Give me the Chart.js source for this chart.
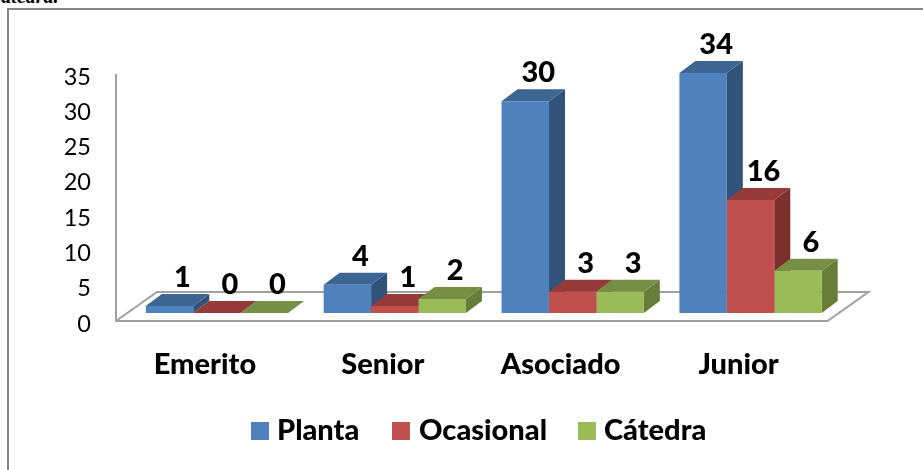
<!DOCTYPE html>
<html><head><meta charset="utf-8">
<style>html,body{margin:0;padding:0;background:#fff;overflow:hidden}
#wrap{position:relative;width:923px;height:470px;overflow:hidden}
#frag{position:absolute;left:-12px;top:-15px;font:italic bold 20px "Liberation Serif";color:#000}
#frame{position:absolute;left:7px;top:8px;width:950px;height:500px;border:2px solid #868686;box-sizing:border-box}
canvas{position:absolute;left:0;top:0}</style>
<script src="https://cdn.jsdelivr.net/npm/chart.js@4"></script></head>
<body><div id="wrap"><div id="frag">Cátedra.</div><div id="frame"></div><canvas id="c" width="923" height="470"></canvas></div>
<script>
const categories=["Emerito","Senior","Asociado","Junior"];
const planta=[1,4,30,34];
const ocasional=[0,1,3,16];
const catedra=[0,2,3,6];
const seriesNames=["Planta","Ocasional","Cátedra"];
const fronts=["#4F81BD","#C0504D","#9BBB59"];
const tops=["#3D6592","#953A38","#778F45"];
const sides=["#32527A","#7D2F2D","#677D3A"];
const FONT="Lato, Carlito, sans-serif";
const LIFT=3;
const SHIFT={x:12,y:-8-LIFT}, DEPTH={x:16,y:12}, FLOOR={x:41,y:29};
const threeD={id:"threeD",
 beforeDatasetsDraw(ch){
  const c=ch.ctx,a=ch.chartArea,y0=a.bottom-LIFT,yt=a.top-LIFT;
  c.save();c.strokeStyle="#A0A0A0";c.lineWidth=2;c.lineJoin="miter";
  c.beginPath();c.moveTo(a.left,yt);c.lineTo(a.left,y0);c.lineTo(a.right,y0);
  c.lineTo(a.right+FLOOR.x,y0-FLOOR.y);c.lineTo(a.left+FLOOR.x,y0-FLOOR.y);c.lineTo(a.left,y0);c.stroke();c.restore();
  c.save();c.translate(SHIFT.x,SHIFT.y);
  ch.data.datasets.forEach((d,i)=>{
   ch.getDatasetMeta(i).data.forEach(el=>{
    const l=el.x-el.width/2,r=el.x+el.width/2,t=el.y,b=el.base;
    c.fillStyle=sides[i];c.beginPath();c.moveTo(r,t);c.lineTo(r+DEPTH.x,t-DEPTH.y);c.lineTo(r+DEPTH.x,b-DEPTH.y);c.lineTo(r,b);c.closePath();c.fill();
    c.fillStyle=tops[i];c.beginPath();c.moveTo(l,t);c.lineTo(l+DEPTH.x,t-DEPTH.y);c.lineTo(r+DEPTH.x,t-DEPTH.y);c.lineTo(r,t);c.closePath();c.fill();
   });
  });
 },
 afterDatasetsDraw(ch){
  const c=ch.ctx;c.restore();
  c.save();c.fillStyle="#000";c.font="900 29px "+FONT;c.textAlign="center";c.textBaseline="alphabetic";
  ch.data.datasets.forEach((d,i)=>{
   ch.getDatasetMeta(i).data.forEach((el,j)=>{
    c.fillText(String(d.data[j]),el.x+SHIFT.x+13,el.y+SHIFT.y-DEPTH.y-7);
   });
  });
  c.restore();
  c.save();c.font="900 29px "+FONT;c.textBaseline="middle";c.textAlign="left";
  const bx=[251,392,578],tx=[277,419,604];
  ch.data.datasets.forEach((d,i)=>{
   c.fillStyle=fronts[i];c.fillRect(bx[i],422,18,18);
   c.fillStyle="#000";c.fillText(d.label,tx[i],431);
  });
  c.restore();
 }};
new Chart(document.getElementById("c"),{type:"bar",plugins:[threeD],
 data:{labels:categories,datasets:[planta,ocasional,catedra].map((v,i)=>({label:seriesNames[i],data:v,backgroundColor:fronts[i],borderWidth:0,clip:false,categoryPercentage:0.8,barPercentage:1}))},
 options:{responsive:false,animation:false,
  layout:{padding:{left:0,right:95.5,top:74+LIFT,bottom:0}},
  plugins:{legend:{display:false},tooltip:{enabled:false},title:{display:false}},
  scales:{
   x:{afterFit(s){s.height=149-LIFT},grid:{display:false},border:{display:false},ticks:{color:"#000",font:{family:FONT,size:29,weight:"900"},padding:15,maxRotation:0}},
   y:{min:0,max:35,afterFit(s){s.width=116},grid:{display:false,drawTicks:false},border:{display:false},ticks:{stepSize:5,color:"#000",font:{family:FONT,size:23.5},padding:25}}
  }}});
</script></body></html>
